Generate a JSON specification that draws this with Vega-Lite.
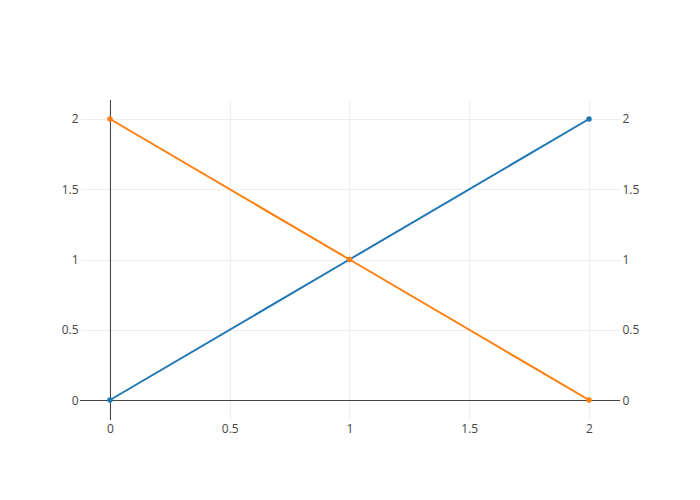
{
  "$schema": "https://vega.github.io/schema/vega-lite/v6.json",
  "width": 540,
  "height": 320,
  "autosize": {"type": "none"},
  "padding": {"left": 80, "top": 100, "right": 80, "bottom": 80},
  "background": "white",
  "config": {
    "view": {"stroke": null},
    "font": "Open Sans",
    "axis": {"labelFont": "Open Sans", "labelFontSize": 12, "labelColor": "#444444", "domain": false, "ticks": false, "grid": true, "gridColor": "#eeeeee", "gridWidth": 1, "title": null}
  },
  "data": {"values": [
    {"x": 0, "y": 0, "series": "trace 0"},
    {"x": 1, "y": 1, "series": "trace 0"},
    {"x": 2, "y": 2, "series": "trace 0"},
    {"x": 0, "y": 2, "series": "trace 1"},
    {"x": 1, "y": 1, "series": "trace 1"},
    {"x": 2, "y": 0, "series": "trace 1"}
  ]},
  "layer": [
    {
      "mark": {"type": "rule", "color": "#444", "strokeWidth": 1, "xOffset": 0.5},
      "encoding": {
        "x": {"datum": 0, "type": "quantitative", "scale": {"domain": [-0.12526, 2.12944], "nice": false, "zero": false}, "axis": {"labelPadding": 3, "grid": true, "values": [0, 0.5, 1, 1.5, 2], "format": "~g"}}
      }
    },
    {
      "mark": {"type": "rule", "color": "#444", "strokeWidth": 1, "yOffset": 0.5},
      "encoding": {
        "y": {"datum": 0, "type": "quantitative", "scale": {"domain": [-0.1423, 2.1352], "nice": false, "zero": false}, "axis": {"orient": "left", "labelPadding": 2, "grid": true, "values": [0, 0.5, 1, 1.5, 2], "format": "~g"}}
      }
    },
    {
      "mark": {"type": "line", "strokeWidth": 2, "point": {"size": 30, "filled": true, "opacity": 1}},
      "encoding": {
        "x": {"field": "x", "type": "quantitative", "axis": {"labelPadding": 3, "grid": true, "values": [0, 0.5, 1, 1.5, 2], "format": "~g"}},
        "y": {"field": "y", "type": "quantitative", "axis": {"orient": "right", "labelPadding": 2, "grid": false, "values": [0, 0.5, 1, 1.5, 2], "format": "~g"}},
        "color": {"field": "series", "type": "nominal", "scale": {"range": ["#1f77b4", "#ff7f0e"]}, "legend": null}
      }
    }
  ],
  "resolve": {"axis": {"y": "independent"}}
}
